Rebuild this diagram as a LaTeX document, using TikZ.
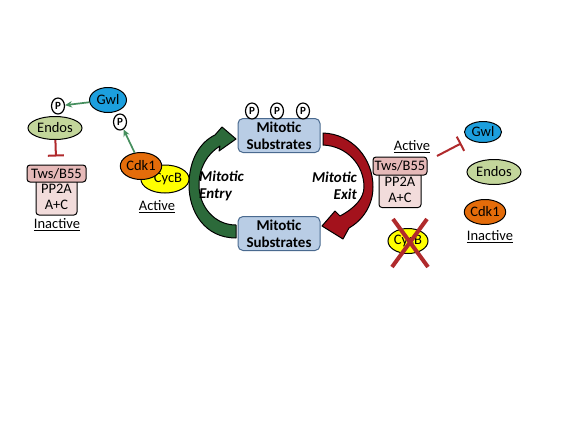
\documentclass[tikz,border=0pt]{standalone}
\usepackage{fontspec}
\setmainfont{Carlito}
\usepackage{tikz}
\usetikzlibrary{shapes.geometric,positioning,calc,arrows.meta}

\definecolor{gwlblue}{HTML}{1C9FDE}
\definecolor{endosgreen}{HTML}{C3D69B}
\definecolor{cdkorange}{HTML}{E46C0A}
\definecolor{cycyellow}{HTML}{FFFF00}
\definecolor{twspink}{HTML}{E6B9B8}
\definecolor{pppink}{HTML}{F2DCDB}
\definecolor{subblue}{HTML}{B9CDE5}
\definecolor{subedge}{HTML}{4A6A8F}
\definecolor{actgreen}{HTML}{468F5E}
\definecolor{inhred}{HTML}{B02A2C}
\definecolor{entrygreen}{HTML}{2C6A3A}
\definecolor{exitred}{HTML}{A3121C}

\tikzset{
  prot/.style={ellipse, draw=black, line width=1pt, inner sep=0pt,
    font=\fontsize{14.5}{16}\selectfont},
  phos/.style={ellipse, draw=black, fill=white, line width=1.2pt, inner sep=0pt,
    minimum width=13pt, minimum height=16pt, font=\bfseries\fontsize{11}{11}\selectfont},
  ppbox/.style={rectangle, rounded corners=3pt, draw=black, line width=1pt, inner sep=0pt,
    align=center, font=\fontsize{14.5}{16}\selectfont},
  sub/.style={rectangle, rounded corners=5pt, draw=subedge, fill=subblue, line width=1pt,
    minimum width=82pt, minimum height=34pt, inner sep=0pt, align=center,
    font=\bfseries\fontsize{15}{17}\selectfont},
  lbl/.style={inner sep=0pt, font=\fontsize{14.5}{16}\selectfont},
  cyc/.style={inner sep=0pt, font=\bfseries\itshape\fontsize{15}{17}\selectfont},
  act/.style={draw=actgreen, line width=1.7pt, -{Stealth[length=7pt,width=6.5pt]}},
  inh/.style={draw=inhred, line width=2pt, -{Bar[width=16pt]}},
  cross/.style={draw=inhred, line width=4pt},
}

\begin{document}
\begin{tikzpicture}[x=1pt, y=-1pt]
  \useasboundingbox (0,0) rectangle (566,424);

  % Left: inactive PP2A
  \node[prot, fill=gwlblue, minimum width=37pt, minimum height=25pt] (gwlL) at (108,100) {Gwl};
  \node[phos] (pEn) at (58,106) {P};
  \node[prot, fill=endosgreen, minimum width=54pt, minimum height=23pt] (endosL) at (55,128) {Endos};
  \node[phos] (pGw) at (120,122) {P};
  \node[ppbox, fill=pppink, minimum width=41pt, minimum height=36pt] (ppL) at (56.5,197) {PP2A\\A+C};
  \node[ppbox, fill=twspink, minimum width=59pt, minimum height=17pt] (twsL) at (56.5,173.5) {Tws/B55};
  \node[lbl] (inactL) at (57,225) {\underline{Inactive}};

  % Cdk1-CycB
  \node[prot, fill=cycyellow, minimum width=40pt, minimum height=28pt] (cycL) at (165,179) {\hspace{6pt}CycB};
  \node[prot, fill=cdkorange, minimum width=36pt, minimum height=27pt] (cdkL) at (141,166) {Cdk1};
  \node[lbl] (actL) at (157,207) {\underline{Active}};

  \draw[act] (gwlL) -- (pEn);
  \draw[act] (cdkL) -- (pGw);
  \draw[inh, shorten >=8pt] (endosL) -- (twsL);

  % Substrates
  \node[sub] (subTop) at (279,135.5) {Mitotic\\Substrates};
  \node[sub] (subBot) at (279,233.5) {Mitotic\\Substrates};
  \node[phos] (p1) at (252,111) {P};
  \node[phos] (p2) at (277,111) {P};
  \node[phos] (p3) at (303,111) {P};

  % Cycle arrows
  \draw[fill=entrygreen, line width=1pt, line join=round]
    (236,238) .. controls (205,238) and (189,212) .. (189,185)
    .. controls (189,160) and (200,142) .. (215,135)
    -- (222,127) -- (236,139) -- (219,151) -- (220,146)
    .. controls (207,154) and (199,168) .. (199,185)
    .. controls (199,206) and (214,225) .. (236,225) -- cycle;
  \draw[fill=exitred, line width=1pt, line join=round]
    (323,133) .. controls (352,134) and (373,158) .. (373,187)
    .. controls (373,205) and (363,220) .. (349,228)
    -- (343,239) -- (322,226) -- (335,211) -- (340,216)
    .. controls (355,208) and (364,198) .. (364,187)
    .. controls (364,165) and (347,146) .. (323,145) -- cycle;
  \node[cyc, anchor=west, align=left] (entryT) at (199,186) {Mitotic\\Entry};
  \node[cyc, anchor=east, align=right] (exitT) at (357,186) {Mitotic\\Exit};

  % Right: active PP2A
  \node[lbl] (actR) at (412,147) {\underline{Active}};
  \node[ppbox, fill=pppink, minimum width=42pt, minimum height=35pt] (ppR) at (400,190) {PP2A\\A+C};
  \node[ppbox, fill=twspink, minimum width=54pt, minimum height=18pt] (twsR) at (400,166) {Tws/B55};
  \node[prot, fill=cycyellow, minimum width=40pt, minimum height=25pt] (cycR) at (408,241) {CycB};
  \draw[cross] ($(cycR)+(-15,-22)$) -- ($(cycR)+(20,26)$);
  \draw[cross] ($(cycR)+(19,-22)$) -- ($(cycR)+(-16,26)$);

  \node[prot, fill=gwlblue, minimum width=37pt, minimum height=21pt] (gwlR) at (483,132) {Gwl};
  \node[prot, fill=endosgreen, minimum width=54pt, minimum height=25pt] (endosR) at (494,172) {Endos};
  \node[prot, fill=cdkorange, minimum width=36pt, minimum height=25pt] (cdkR) at (485,212) {Cdk1};
  \node[lbl] (inactR) at (490,237) {\underline{Inactive}};

  \coordinate (inhR) at (437,156);
  \draw[inh, shorten >=8.5pt] (inhR) -- (gwlR);
\end{tikzpicture}
\end{document}
